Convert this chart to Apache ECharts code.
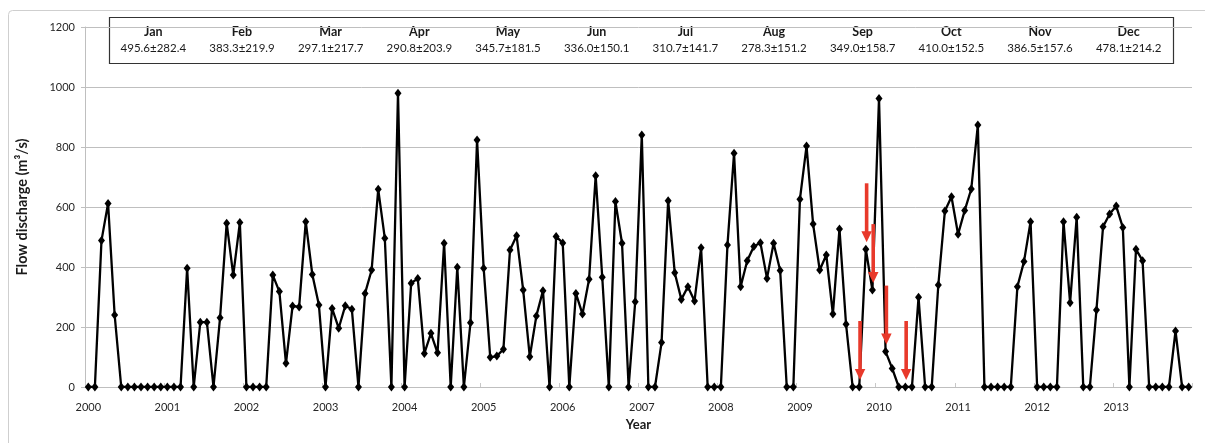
<!DOCTYPE html>
<html>
<head>
<meta charset="utf-8">
<title>Monthly flow discharge 2000–2013</title>
<script src="https://cdn.jsdelivr.net/npm/echarts@6/dist/echarts.min.js"></script>
<style>
  html, body { margin: 0; padding: 0; background: #fff; }
  #chart { width: 1205px; height: 443px; }
</style>
</head>
<body>
<div id="chart"></div>
<script>
// Monthly flow discharge (m³/s), one array per year, Jan..Dec
const years = [2000, 2001, 2002, 2003, 2004, 2005, 2006, 2007, 2008, 2009, 2010, 2011, 2012, 2013];
const flow2000 = [0, 0, 488, 612, 240, 0, 0, 0, 0, 0, 0, 0];
const flow2001 = [0, 0, 0, 396, 0, 216, 216, 0, 231, 546, 373, 548];
const flow2002 = [0, 0, 0, 0, 373, 318, 79, 270, 267, 551, 375, 273];
const flow2003 = [0, 262, 196, 271, 259, 0, 312, 390, 659, 496, 0, 979];
const flow2004 = [0, 346, 362, 112, 179, 114, 479, 0, 399, 0, 214, 823];
const flow2005 = [396, 99, 103, 126, 457, 504, 323, 101, 237, 321, 0, 502];
const flow2006 = [480, 0, 312, 243, 359, 704, 366, 0, 618, 479, 0, 284];
const flow2007 = [840, 0, 0, 148, 621, 381, 292, 334, 287, 464, 0, 0];
const flow2008 = [0, 473, 779, 334, 421, 468, 481, 362, 479, 388, 0, 0];
const flow2009 = [626, 803, 543, 390, 440, 243, 527, 209, 0, 0, 459, 323];
const flow2010 = [962, 118, 62, 0, 0, 0, 299, 0, 0, 340, 587, 634];
const flow2011 = [509, 588, 660, 873, 0, 0, 0, 0, 0, 334, 418, 551];
const flow2012 = [0, 0, 0, 0, 551, 281, 566, 0, 0, 257, 534, 577];
const flow2013 = [603, 532, 0, 459, 421, 0, 0, 0, 0, 187, 0, 0];

// Monthly mean ± standard deviation shown in the summary box
const monthNames = ['Jan', 'Feb', 'Mar', 'Apr', 'May', 'Jun', 'Jul', 'Aug', 'Sep', 'Oct', 'Nov', 'Dec'];
const monthStats = ['495.6±282.4', '383.3±219.9', '297.1±217.7', '290.8±203.9', '345.7±181.5', '336.0±150.1',
                    '310.7±141.7', '278.3±151.2', '349.0±158.7', '410.0±152.5', '386.5±157.6', '478.1±214.2'];

// Months highlighted with red arrows
const arrowMonths = ['2009-10', '2009-11', '2009-12', '2010-02', '2010-05'];

const yTicks = { min: 0, max: 1200, step: 200 };

const yearlyFlow = [flow2000, flow2001, flow2002, flow2003, flow2004, flow2005, flow2006,
                    flow2007, flow2008, flow2009, flow2010, flow2011, flow2012, flow2013];
const categories = [];
const flow = [];
years.forEach((y, yi) => {
  yearlyFlow[yi].forEach((v, m) => {
    categories.push(y + '-' + String(m + 1).padStart(2, '0'));
    flow.push(v);
  });
});
const arrowData = arrowMonths.map(c => {
  const i = categories.indexOf(c);
  return [i, flow[i]];
});

const FONT = 'Lato, "Open Sans", sans-serif';
const GRID = { left: 85, right: 13, top: 27, bottom: 56 };
const BOX = { x: 109, y: 17, w: 1064, h: 46 };

// Summary box: frame plus one column per month
const boxChildren = [{
  type: 'rect',
  shape: { x: BOX.x + 0.5, y: BOX.y + 0.5, width: BOX.w, height: BOX.h },
  style: { fill: '#fff', stroke: '#333', lineWidth: 1.2 }
}];
const colW = BOX.w / monthNames.length;
monthNames.forEach((m, i) => {
  const cx = BOX.x + colW * (i + 0.5);
  boxChildren.push({
    type: 'text', x: cx, y: 32,
    style: { text: m, font: 'bold 12.5px ' + FONT, fill: '#1a1a1a', textAlign: 'center', textVerticalAlign: 'middle' }
  });
  boxChildren.push({
    type: 'text', x: cx, y: 48,
    style: { text: monthStats[i], font: '11.5px ' + FONT, fill: '#1a1a1a', textAlign: 'center', textVerticalAlign: 'middle' }
  });
});

const chart = echarts.init(document.getElementById('chart'), null, { renderer: 'canvas' });

chart.setOption({
  animation: false,
  backgroundColor: '#fff',
  grid: GRID,
  xAxis: {
    type: 'category',
    data: categories,
    boundaryGap: true,
    name: 'Year',
    nameLocation: 'middle',
    nameGap: 30,
    nameTextStyle: { fontFamily: FONT, fontWeight: 'bold', fontSize: 13, color: '#1a1a1a' },
    axisLine: { lineStyle: { color: '#bfbfbf', width: 1 } },
    axisTick: {
      show: true, inside: true, length: 4,
      interval: (idx) => idx % 12 === 0,
      lineStyle: { color: '#c8c8c8' }
    },
    axisLabel: {
      interval: (idx) => idx % 12 === 0,
      formatter: (v) => v.slice(0, 4),
      fontFamily: FONT, fontSize: 11, color: '#262626', margin: 15
    },
    splitLine: { show: false }
  },
  yAxis: {
    type: 'value',
    min: yTicks.min, max: yTicks.max, interval: yTicks.step,
    name: 'Flow discharge (m³/s)',
    nameLocation: 'middle',
    nameGap: 55,
    nameTextStyle: { fontFamily: FONT, fontWeight: 'bold', fontSize: 14.5, color: '#1a1a1a' },
    axisLine: { show: true, lineStyle: { color: '#bfbfbf', width: 1 } },
    axisTick: { show: true, length: 4, lineStyle: { color: '#bfbfbf' } },
    axisLabel: { fontFamily: FONT, fontSize: 11, color: '#262626', margin: 10, formatter: (v) => String(v) },
    splitLine: { lineStyle: { color: '#bfbfbf', width: 1 } }
  },
  series: [
    {
      type: 'line',
      data: flow,
      symbol: 'diamond',
      symbolSize: [7, 9],
      showAllSymbol: true,
      lineStyle: { color: '#000', width: 2.3 },
      itemStyle: { color: '#000' },
      z: 3
    },
    {
      type: 'custom',
      data: arrowData,
      silent: true,
      z: 5,
      renderItem: (params, api) => {
        const p = api.coord([api.value(0), api.value(1)]);
        const x = p[0] + 0.8;
        const tip = p[1] - 7;
        const len = 59, headH = 11, headW = 10.5, shaftW = 3.6;
        return {
          type: 'group',
          children: [
            {
              type: 'rect',
              shape: { x: x - shaftW / 2, y: tip - len, width: shaftW, height: len - headH + 1 },
              style: { fill: '#e8392b' }
            },
            {
              type: 'polygon',
              shape: { points: [[x - headW / 2, tip - headH], [x + headW / 2, tip - headH], [x, tip]] },
              style: { fill: '#e8392b' }
            }
          ]
        };
      }
    }
  ],
  graphic: [
    {
      type: 'rect', silent: true, z: -1,
      shape: { x: 8.5, y: 10.5, width: 1220, height: 460, r: 4 },
      style: { fill: 'none', stroke: '#cfcfcf', lineWidth: 1 }
    },
    { type: 'group', z: 10, children: boxChildren }
  ]
});
</script>
</body>
</html>
